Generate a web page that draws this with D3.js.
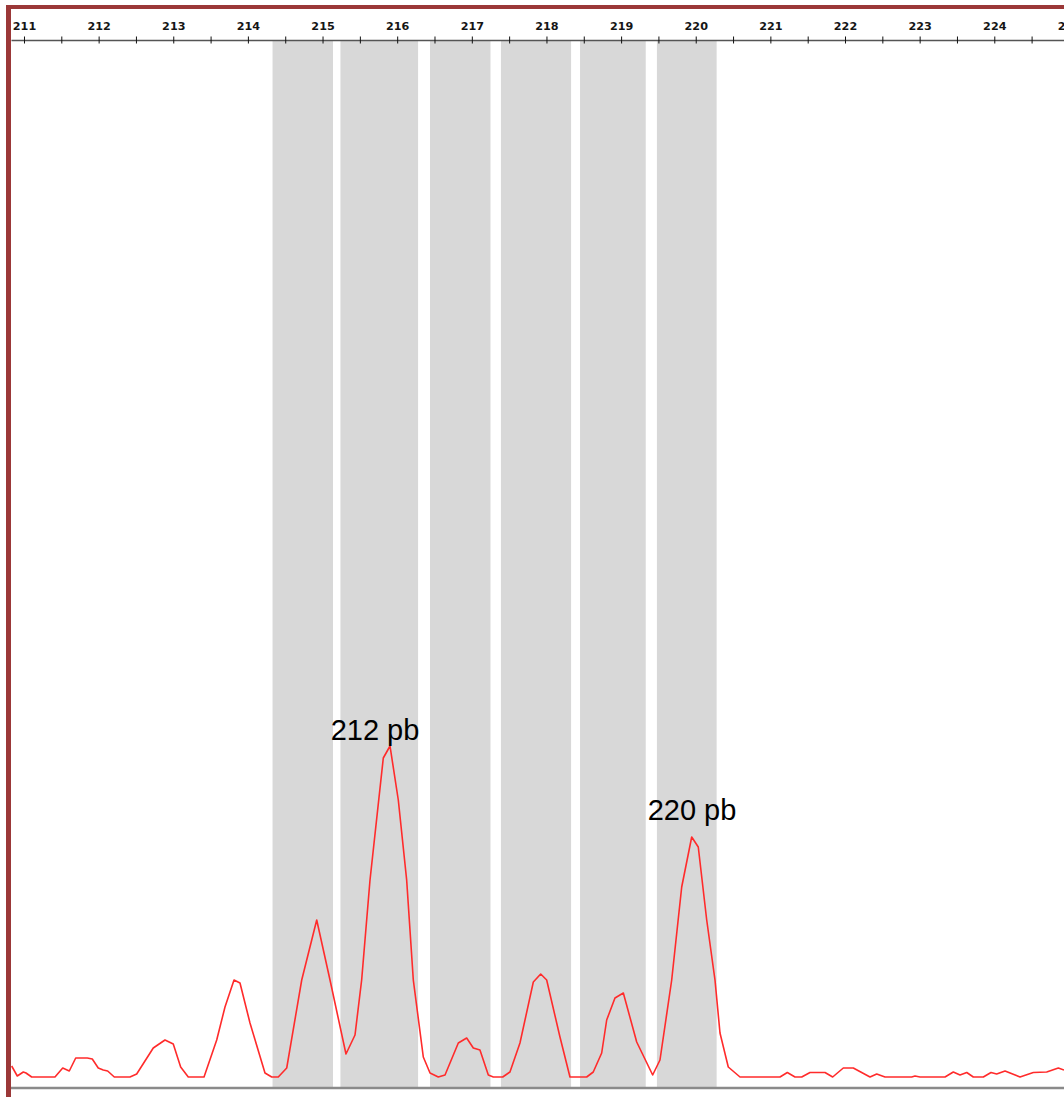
<!DOCTYPE html>
<html>
<head>
<meta charset="utf-8">
<script src="https://cdn.jsdelivr.net/npm/d3@7"></script>
<style>
  html, body { margin: 0; padding: 0; background: #fff; }
  svg { display: block; }
</style>
</head>
<body>
<svg id="chart" width="1064" height="1097"></svg>
<script>
// Fragment sizes (bp) along the electropherogram trace
const traceSize = [
  210.835, 210.910, 210.991, 211.027, 211.103, 211.415, 211.519, 211.607, 211.693, 211.848,
  211.915, 211.995, 212.062, 212.121, 212.210, 212.420, 212.510, 212.732, 212.889, 213.000,
  213.099, 213.201, 213.412, 213.582, 213.693, 213.814, 213.894, 214.028, 214.229, 214.319,
  214.407, 214.520, 214.721, 214.922, 215.100, 215.314, 215.435, 215.524, 215.636, 215.814,
  215.904, 216.015, 216.127, 216.216, 216.350, 216.440, 216.551, 216.641, 216.819, 216.931,
  217.020, 217.109, 217.221, 217.288, 217.414, 217.511, 217.645, 217.824, 217.923, 218.003,
  218.181, 218.315, 218.539, 218.627, 218.740, 218.807, 218.918, 219.030, 219.209, 219.423,
  219.521, 219.678, 219.812, 219.946, 220.034, 220.147, 220.258, 220.325, 220.436, 220.593,
  221.129, 221.227, 221.330, 221.420, 221.531, 221.732, 221.835, 221.977, 222.111, 222.335,
  222.425, 222.536, 222.893, 222.938, 223.005, 223.340, 223.451, 223.541, 223.631, 223.719,
  223.853, 223.956, 224.032, 224.144, 224.345, 224.523, 224.702, 224.858, 224.934
];

// Fluorescence signal at each size
const traceSignal = [
  11, 1, 5, 4, 0, 0, 9, 6, 19, 19,
  18, 9, 7, 6, 0, 0, 3, 29, 37, 33,
  10, 0, 0, 37, 70, 97, 94, 54, 4, 0,
  0, 9, 97, 157, 97, 23, 42, 97, 197, 319,
  331, 277, 197, 97, 20, 4, 0, 2, 34, 39,
  29, 27, 2, 0, 0, 5, 34, 95, 103, 97,
  40, 0, 0, 5, 24, 57, 79, 84, 35, 2,
  17, 97, 190, 240, 230, 157, 97, 44, 10, 0,
  0, 4.5, 0, 0, 4.5, 4.5, 0, 9, 9, 0,
  3, 0, 0, 1, 0, 0, 5, 2, 4.5, 0,
  0, 4.5, 3, 6, 0, 4.5, 5, 9, 7
];

// Allele bins (start / end, bp)
const binStart = [214.33, 215.24, 216.44, 217.39, 218.45, 219.48];
const binEnd   = [215.14, 216.28, 217.25, 218.33, 219.33, 220.28];

// Size ruler ticks
const majorTicks = [211, 212, 213, 214, 215, 216, 217, 218, 219, 220, 221, 222, 223, 224, 225];
const minorTicks = [211.5, 212.5, 213.5, 214.5, 215.5, 216.5, 217.5, 218.5, 219.5, 220.5,
                    221.5, 222.5, 223.5, 224.5];
const tickLabels = ["211", "212", "213", "214", "215", "216", "217", "218", "219", "220",
                    "221", "222", "223", "224", "225"];

// Peak callouts
const peakText   = ["212 pb", "220 pb"];
const peakSize   = [215.703, 219.950];
const peakLevel  = [337, 257];

const svg = d3.select("#chart");
const W = 1064, H = 1097;
const plotLeft = 11, plotRight = 1064, axisY = 40, baseY = 1077, floorY = 1088;

const x = d3.scaleLinear().domain([210.826, 224.934]).range([plotLeft, plotRight]);
const y = d3.scaleLinear().domain([0, baseY - axisY]).range([baseY, axisY]);

// bins
svg.append("g").selectAll("rect")
  .data(binStart.map((s, i) => ({ s, e: binEnd[i] })))
  .join("rect")
  .attr("x", d => x(d.s))
  .attr("y", axisY + 1)
  .attr("width", d => x(d.e) - x(d.s))
  .attr("height", floorY - axisY - 1)
  .attr("fill", "#d8d8d8");

// floor line
svg.append("line")
  .attr("x1", plotLeft).attr("x2", W)
  .attr("y1", floorY).attr("y2", floorY)
  .attr("stroke", "#8a8a8a").attr("stroke-width", 2.5);

// size ruler along the top
const allTicks = majorTicks.concat(minorTicks).sort((a, b) => a - b);
const labelOf = new Map(majorTicks.map((v, i) => [v, tickLabels[i]]));
const axis = d3.axisTop(x)
  .tickValues(allTicks)
  .tickSizeInner(3)
  .tickSizeOuter(0)
  .tickPadding(7)
  .tickFormat(v => labelOf.get(v) || "");

const gAxis = svg.append("g")
  .attr("transform", `translate(0,${axisY})`)
  .call(axis);
gAxis.select(".domain").attr("stroke", "#555").attr("stroke-width", 1.6);
gAxis.selectAll(".tick line").attr("y1", 3.5).attr("y2", -3.5).attr("stroke", "#111").attr("stroke-width", 1);
gAxis.selectAll(".tick text")
  .attr("font-family", "DejaVu Sans, sans-serif")
  .attr("font-weight", "bold")
  .attr("font-size", 11.2)
  .attr("fill", "#151515");

// signal trace
const line = d3.line()
  .x((d, i) => x(traceSize[i]))
  .y(d => y(d));

svg.append("path")
  .datum(traceSignal)
  .attr("d", line)
  .attr("fill", "none")
  .attr("stroke", "#ff2b2b")
  .attr("stroke-width", 1.6)
  .attr("stroke-linejoin", "round");

// peak callouts
svg.append("g").selectAll("text")
  .data(peakText)
  .join("text")
  .attr("x", (d, i) => x(peakSize[i]))
  .attr("y", (d, i) => y(peakLevel[i]))
  .attr("text-anchor", "middle")
  .attr("font-family", "Liberation Sans, Arial, sans-serif")
  .attr("font-size", 29)
  .attr("fill", "#000")
  .text(d => d);

// frame
svg.append("rect").attr("x", 6).attr("y", 5).attr("width", W - 6).attr("height", 4).attr("fill", "#9b3838");
svg.append("rect").attr("x", 6).attr("y", 5).attr("width", 5).attr("height", H - 5).attr("fill", "#9b3838");
</script>
</body>
</html>
